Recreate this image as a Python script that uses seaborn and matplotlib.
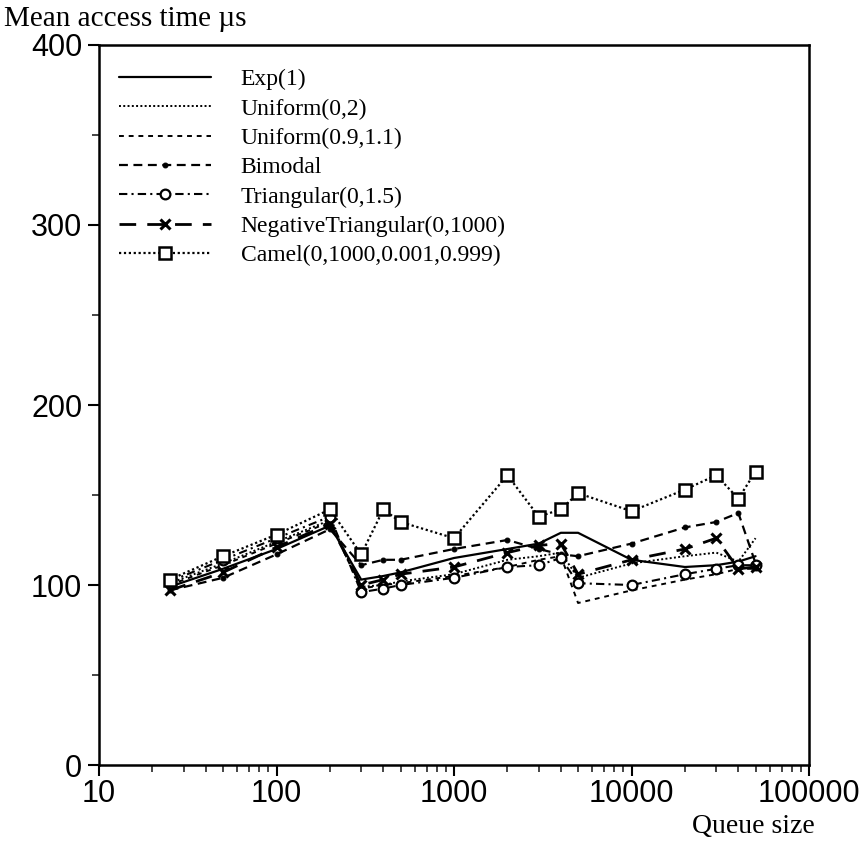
import matplotlib
matplotlib.use("Agg")
import matplotlib.pyplot as plt
import matplotlib.ticker as mticker
import seaborn as sns
import numpy as np

queue_size = [25, 50, 100, 200, 300, 400, 500, 1000, 2000, 3000, 4000, 5000,
              10000, 20000, 30000, 40000, 50000]

exp1 = [99, 109, 120, 133, 103, 105, 107, 115, 120, 123, 129, 129, 114, 110, 111, 113, 116]
uniform02 = [101, 112, 124, 136, 99, 100, 102, 106, 114, 116, 118, 104, 112, 116, 118, 113, 126]
uniform0911 = [100, 111, 123, 135, 98, 100, 101, 105, 110, 114, 116, 90, 97, 103, 106, 109, 109]
bimodal = [97, 104, 117, 131, 111, 114, 114, 120, 125, 120, 117, 116, 123, 132, 135, 140, 112]
triangular = [102, 114, 126, 138, 96, 98, 100, 104, 110, 111, 115, 101, 100, 106, 109, 111, 111]
negtriangular = [97, 107, 121, 134, 100, 103, 106, 110, 118, 122, 123, 106, 114, 120, 126, 109, 110]
camel = [103, 116, 128, 142, 117, 142, 135, 126, 161, 138, 142, 151, 141, 153, 161, 148, 163]

labels = ["Exp(1)", "Uniform(0,2)", "Uniform(0.9,1.1)", "Bimodal",
          "Triangular(0,1.5)", "NegativeTriangular(0,1000)", "Camel(0,1000,0.001,0.999)"]
series = [exp1, uniform02, uniform0911, bimodal, triangular, negtriangular, camel]

styles = [
    dict(linestyle="-", linewidth=1.6),
    dict(linestyle=(0, (1, 1.2)), linewidth=1.4),
    dict(linestyle=(0, (2.5, 2.5)), linewidth=1.4),
    dict(linestyle=(0, (4, 2.5)), linewidth=1.6, marker="o", markersize=3.5,
         markerfacecolor="black", markeredgecolor="black"),
    dict(linestyle=(0, (4, 2, 1, 2)), linewidth=1.5, marker="o", markersize=7,
         markerfacecolor="white", markeredgecolor="black", markeredgewidth=1.6),
    dict(linestyle=(0, (6, 4)), linewidth=2.0, marker="x", markersize=7,
         markeredgewidth=2.2, markeredgecolor="black"),
    dict(linestyle=(0, (1, 1.2)), linewidth=1.6, marker="s", markersize=8,
         markerfacecolor="white", markeredgecolor="black", markeredgewidth=1.8),
]

sns.set_theme(style="white")
plt.rcParams["font.family"] = ["Liberation Sans", "DejaVu Sans"]

fig = plt.figure(figsize=(8.64, 8.55), dpi=100)
ax = fig.add_axes([99 / 864, 1 - 765 / 855, 710 / 864, 720 / 855])

for lab, vals, st in zip(labels, series, styles):
    sns.lineplot(x=queue_size, y=vals, ax=ax, color="black", label=lab,
                 estimator=None, sort=False, **st)

ax.set_xscale("log")
ax.set_xlim(10, 100000)
ax.set_ylim(0, 400)
ax.set_xticks([10, 100, 1000, 10000, 100000])
ax.xaxis.set_major_formatter(mticker.FuncFormatter(lambda v, p: f"{int(round(v))}"))
ax.xaxis.set_minor_locator(mticker.LogLocator(base=10, subs=np.arange(2, 10)))
ax.xaxis.set_minor_formatter(mticker.NullFormatter())
ax.set_yticks([0, 100, 200, 300, 400])
ax.yaxis.set_minor_locator(mticker.MultipleLocator(50))

ax.tick_params(axis="both", which="major", direction="out", length=8, width=1.5,
               labelsize=22, colors="black", bottom=True, left=True, top=False, right=False)
ax.tick_params(axis="both", which="minor", direction="out", length=5, width=1.2,
               bottom=True, left=True, top=False, right=False)
ax.tick_params(axis="x", pad=2)
ax.tick_params(axis="y", pad=4)
for sp in ax.spines.values():
    sp.set_color("black")
    sp.set_linewidth(1.8)
    sp.set_visible(True)
ax.grid(False)
ax.set_xlabel("")
ax.set_ylabel("")

fig.text(4 / 864, 1 - 19 / 855, "Mean access time µs", family="Liberation Serif",
         fontsize=21, ha="left", va="center", color="black")
fig.text(815 / 864, 1 - 826 / 855, "Queue size", family="Liberation Serif",
         fontsize=20, ha="right", va="center", color="black")

leg = ax.legend(loc="upper left", bbox_to_anchor=(0.005, 0.99), frameon=False,
                prop={"family": "Liberation Serif", "size": 17},
                handlelength=3.9, handletextpad=1.25, labelspacing=0.33,
                borderaxespad=0.3)
for t in leg.get_texts():
    t.set_color("black")

fig.savefig("out.png", dpi=100, facecolor="white")
